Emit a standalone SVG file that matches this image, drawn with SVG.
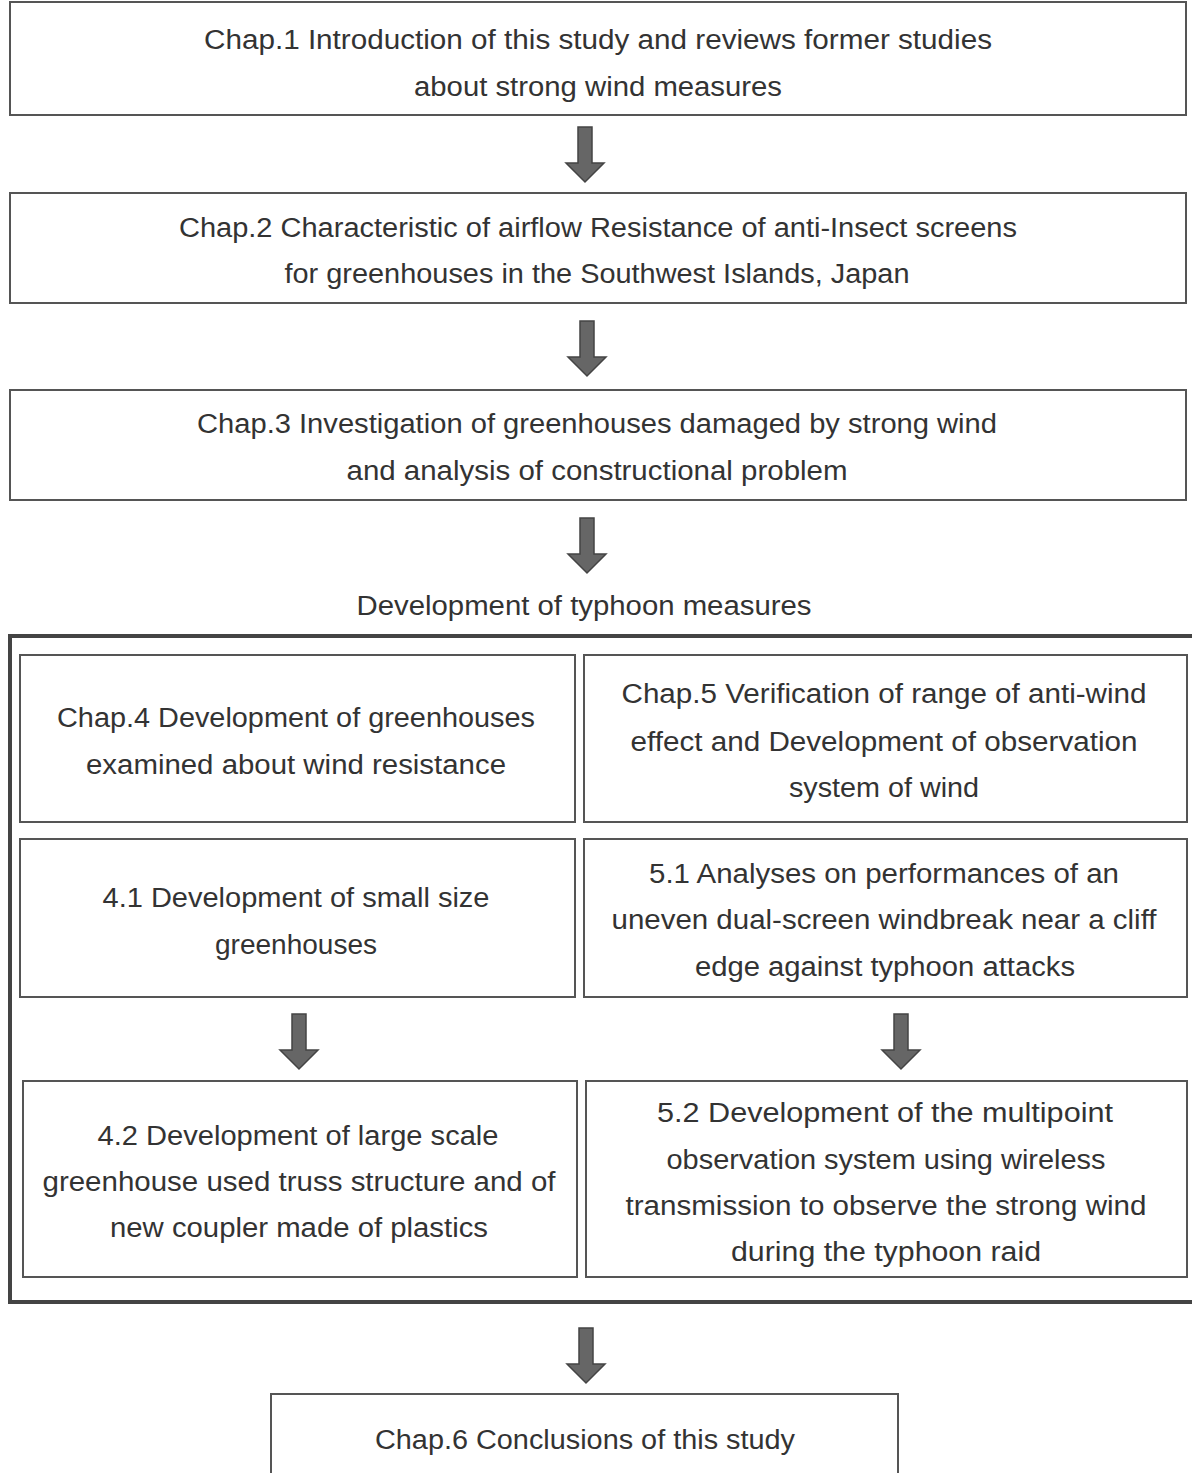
<svg xmlns="http://www.w3.org/2000/svg" width="1192" height="1473" viewBox="0 0 1192 1473">
<style>
.box{fill:#fff;stroke:#555;stroke-width:2}
.outer{fill:none;stroke:#444;stroke-width:4}
text{font-family:"Liberation Sans",Arial,sans-serif;font-size:27px;fill:#333;text-anchor:middle}
.arr{fill:#666;stroke:#444;stroke-width:1.5;stroke-linejoin:miter}
</style>
<defs>
<path id="arrow" d="M-7,0 H7 V36 H19 L0,55 L-19,36 H-7 Z"/>
</defs>
<rect width="1192" height="1473" fill="#fff"/>
<g id="connectors">
<use href="#arrow" class="arr" x="585" y="127"/>
<use href="#arrow" class="arr" x="587" y="321"/>
<use href="#arrow" class="arr" x="587" y="518"/>
<use href="#arrow" class="arr" x="299" y="1014"/>
<use href="#arrow" class="arr" x="901" y="1014"/>
<use href="#arrow" class="arr" x="586" y="1328"/>
</g>
<g id="chap1">
<rect class="box" x="10" y="2" width="1176" height="113"/>
<text x="598" y="49" textLength="788" lengthAdjust="spacingAndGlyphs">Chap.1 Introduction of this study and reviews former studies</text>
<text x="598" y="96" textLength="368" lengthAdjust="spacingAndGlyphs">about strong wind measures</text>
</g>
<g id="chap2">
<rect class="box" x="10" y="193" width="1176" height="110"/>
<text x="598" y="237" textLength="838" lengthAdjust="spacingAndGlyphs">Chap.2 Characteristic of airflow Resistance of anti-Insect screens</text>
<text x="597" y="283" textLength="625" lengthAdjust="spacingAndGlyphs">for greenhouses in the Southwest Islands, Japan</text>
</g>
<g id="chap3">
<rect class="box" x="10" y="390" width="1176" height="110"/>
<text x="597" y="433" textLength="800" lengthAdjust="spacingAndGlyphs">Chap.3 Investigation of greenhouses damaged by strong wind</text>
<text x="597" y="480" textLength="501" lengthAdjust="spacingAndGlyphs">and analysis of constructional problem</text>
</g>
<g id="typhoon">
<rect class="outer" x="10" y="636" width="1200" height="666"/>
<text x="584" y="615" textLength="455" lengthAdjust="spacingAndGlyphs">Development of typhoon measures</text>
</g>
<g id="chap4">
<rect class="box" x="20" y="655" width="555" height="167"/>
<text x="296" y="727" textLength="478" lengthAdjust="spacingAndGlyphs">Chap.4 Development of greenhouses</text>
<text x="296" y="774" textLength="420" lengthAdjust="spacingAndGlyphs">examined about wind resistance</text>
</g>
<g id="chap5">
<rect class="box" x="584" y="655" width="603" height="167"/>
<text x="884" y="703" textLength="525" lengthAdjust="spacingAndGlyphs">Chap.5 Verification of range of anti-wind</text>
<text x="884" y="751" textLength="507" lengthAdjust="spacingAndGlyphs">effect and Development of observation</text>
<text x="884" y="797" textLength="190" lengthAdjust="spacingAndGlyphs">system of wind</text>
</g>
<g id="s4_1">
<rect class="box" x="20" y="839" width="555" height="158"/>
<text x="296" y="907" textLength="387" lengthAdjust="spacingAndGlyphs">4.1 Development of small size</text>
<text x="296" y="954" textLength="162" lengthAdjust="spacingAndGlyphs">greenhouses</text>
</g>
<g id="s5_1">
<rect class="box" x="584" y="839" width="603" height="158"/>
<text x="884" y="883" textLength="470" lengthAdjust="spacingAndGlyphs">5.1 Analyses on performances of an</text>
<text x="884" y="929" textLength="545" lengthAdjust="spacingAndGlyphs">uneven dual-screen windbreak near a cliff</text>
<text x="885" y="976" textLength="380" lengthAdjust="spacingAndGlyphs">edge against typhoon attacks</text>
</g>
<g id="s4_2">
<rect class="box" x="23" y="1081" width="554" height="196"/>
<text x="298" y="1145" textLength="401" lengthAdjust="spacingAndGlyphs">4.2 Development of large scale</text>
<text x="299" y="1191" textLength="513" lengthAdjust="spacingAndGlyphs">greenhouse used truss structure and of</text>
<text x="299" y="1237" textLength="378" lengthAdjust="spacingAndGlyphs">new coupler made of plastics</text>
</g>
<g id="s5_2">
<rect class="box" x="586" y="1081" width="601" height="196"/>
<text x="885" y="1122" textLength="456" lengthAdjust="spacingAndGlyphs">5.2 Development of the multipoint</text>
<text x="886" y="1169" textLength="439" lengthAdjust="spacingAndGlyphs">observation system using wireless</text>
<text x="886" y="1215" textLength="521" lengthAdjust="spacingAndGlyphs">transmission to observe the strong wind</text>
<text x="886" y="1261" textLength="310" lengthAdjust="spacingAndGlyphs">during the typhoon raid</text>
</g>
<g id="chap6">
<rect class="box" x="271" y="1394" width="627" height="100"/>
<text x="585" y="1449" textLength="420" lengthAdjust="spacingAndGlyphs">Chap.6 Conclusions of this study</text>
</g>
</svg>
